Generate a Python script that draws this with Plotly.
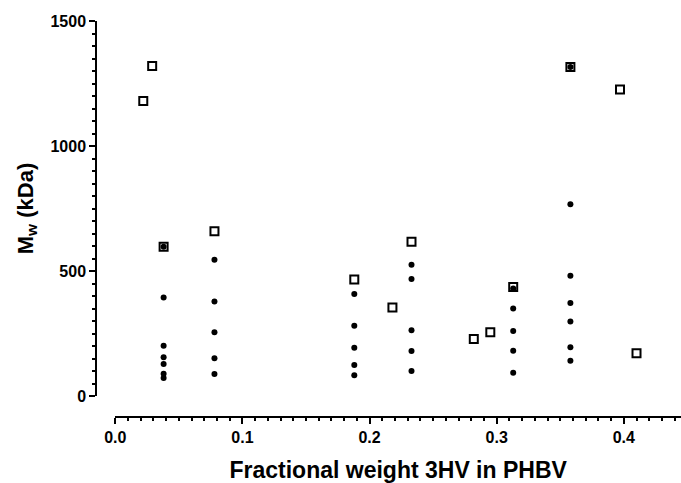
import plotly.graph_objects as go

# Open squares series
sq_x = [0.022, 0.029, 0.038, 0.078, 0.188, 0.218, 0.233, 0.282, 0.295, 0.313, 0.358, 0.397, 0.410]
sq_y = [1180, 1320, 597, 659, 466, 354, 617, 228, 255, 436, 1316, 1226, 171]

# Filled dots series
dot_x = ([0.038] * 7 + [0.078] * 5 + [0.188] * 5 + [0.233] * 5 + [0.313] * 5 + [0.358] * 7)
dot_y = ([597, 394, 201, 155, 128, 89, 72]
         + [545, 378, 255, 151, 88]
         + [408, 281, 193, 124, 83]
         + [525, 468, 263, 180, 100]
         + [430, 350, 260, 181, 93]
         + [1316, 767, 481, 372, 298, 195, 141])

x_ticks = [0.0, 0.1, 0.2, 0.3, 0.4]
x_ticklabels = ["0.0", "0.1", "0.2", "0.3", "0.4"]
y_ticks = [0, 500, 1000, 1500]
y_ticklabels = ["0", "500", "1000", "1500"]

FONT = "Liberation Sans, Arial, sans-serif"

fig = go.Figure()
fig.add_trace(go.Scatter(
    x=dot_x, y=dot_y, mode="markers",
    marker=dict(symbol="circle", size=6, color="black", line=dict(width=0)),
    showlegend=False))
fig.add_trace(go.Scatter(
    x=sq_x, y=sq_y, mode="markers",
    marker=dict(symbol="square-open", size=8, color="black", line=dict(width=2, color="black")),
    showlegend=False))

W, H = 681, 483
L, R, T, B = 96, 0, 21, 66
plot_w = W - L - R
plot_h = H - T - B
x_dom0 = (115.3 - L) / plot_w
y_dom0 = (417 - 396) / plot_h

fig.update_layout(
    width=W, height=H,
    margin=dict(l=L, r=R, t=T, b=B, autoexpand=False),
    paper_bgcolor="white", plot_bgcolor="white",
    font=dict(family=FONT, color="black"),
    xaxis=dict(
        domain=[x_dom0, 1], range=[0, 0.445],
        anchor="free", position=0, automargin=False,
        tickmode="array", tickvals=x_ticks,
        ticktext=["<b>%s</b>" % t for t in x_ticklabels],
        ticks="outside", ticklen=6, tickwidth=1.5, tickcolor="black",
        minor=dict(ticks="outside", ticklen=3.5, tickwidth=1.5, tickcolor="black",
                   tick0=0, dtick=0.01, showgrid=False),
        showline=True, linewidth=1.5, linecolor="black",
        showgrid=False, zeroline=False,
        tickfont=dict(family=FONT, size=16, color="black"),
        title=dict(text="<b>Fractional weight 3HV in PHBV</b>", standoff=16,
                   font=dict(family=FONT, size=23, color="black")),
    ),
    yaxis=dict(
        domain=[y_dom0, 1], range=[0, 1500],
        anchor="free", position=0, automargin=False,
        tickmode="array", tickvals=y_ticks,
        ticktext=["<b>%s</b>" % t for t in y_ticklabels],
        ticks="outside", ticklen=6, tickwidth=1.5, tickcolor="black",
        minor=dict(ticks="outside", ticklen=3.5, tickwidth=1.5, tickcolor="black",
                   tick0=0, dtick=50, showgrid=False),
        showline=True, linewidth=1.5, linecolor="black",
        showgrid=False, zeroline=False,
        tickfont=dict(family=FONT, size=16, color="black"),
        title=dict(text="<b>M<sub>w</sub> (kDa)</b>", standoff=10,
                   font=dict(family=FONT, size=22, color="black")),
    ),
)

fig.write_html(
    "out.html",
    config={"displayModeBar": False},
    post_script="document.body.style.margin='0';document.body.style.overflow='hidden';",
)
